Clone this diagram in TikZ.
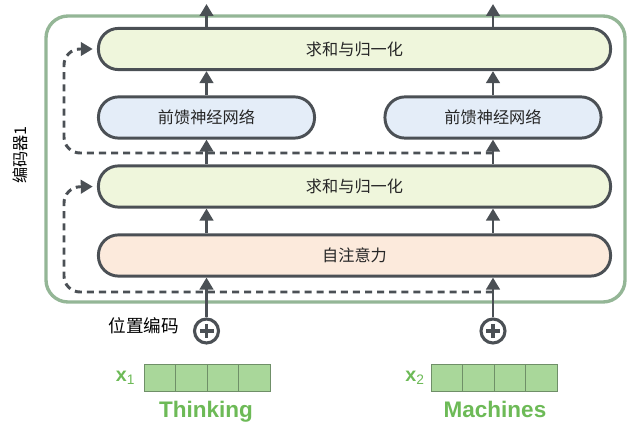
\documentclass[tikz,border=0pt]{standalone}
\usepackage{fontspec}
\usepackage{tikz}
\usetikzlibrary{arrows.meta}
\newfontfamily\cjk{Noto Sans CJK SC}
\newfontfamily\latinsans{Liberation Sans}
\definecolor{encgreen}{HTML}{94B696}
\definecolor{darkline}{HTML}{4B5055}
\definecolor{normfill}{HTML}{EFF6DC}
\definecolor{ffnfill}{HTML}{E4EDF8}
\definecolor{attnfill}{HTML}{FCEADC}
\definecolor{cellfill}{HTML}{A9D79A}
\definecolor{cellline}{HTML}{6F8F68}
\definecolor{wordgreen}{HTML}{6DBA57}

\begin{document}
\begin{tikzpicture}[
            x = 0.025cm, y = -0.025cm, % pixel grid, y runs downwards
            > = {Triangle[length=8.5pt,width=9.5pt]}, % arrow head style
            line width = 2.1pt, % line style
            block/.style = {draw=darkline, rounded corners=0.5cm, minimum height=1.03cm,
                            font=\cjk\fontsize{11.5}{14}\selectfont, text=black!85},
            addnorm/.style = {block, fill=normfill, minimum width=12.8cm},
            ffn/.style = {block, fill=ffnfill, minimum width=5.4cm},
            attn/.style = {block, fill=attnfill, minimum width=12.8cm},
            flow/.style = {->, darkline},
            skip/.style = {->, darkline, dash pattern=on 5pt off 3.6pt,
                           rounded corners=0.4cm, shorten > = 3pt},
            plus/.style = {shape=circle, draw=darkline, fill=white, minimum size=0.6cm, line width=2.2pt},
            cell/.style = {draw=cellline, fill=cellfill, line width=0.6pt,
                           minimum width=0.7875cm, minimum height=0.675cm},
            word/.style = {text=wordgreen, font=\latinsans\bfseries\fontsize{16}{18}\selectfont}
        ]
\useasboundingbox (0,0) rectangle (640,432);

% encoder frame
\draw[encgreen, line width=2.4pt, rounded corners=0.55cm] (46,16) rectangle (625,302);
\node[rotate=90, font=\cjk\fontsize{11.5}{14}\selectfont] (enc) at (20,155) {编码器1};

\node[addnorm] (sum2) at (354.5,49) {求和与归一化};
\node[ffn] (ffnL) at (206.5,117.5) {前馈神经网络};
\node[ffn] (ffnR) at (493,117.5) {前馈神经网络};
\node[addnorm] (sum1) at (354.5,186.5) {求和与归一化};
\node[attn] (attn) at (354.5,255.5) {自注意力};

\coordinate (outL) at (ffnL |- 0,4);
\coordinate (outR) at (ffnR |- 0,4);

% residual connections
\draw[skip] (ffnR |- 0,153) -| (64,49) -- (sum2.west);
\draw[skip] (ffnR |- 0,292) -| (64,187) -- (sum1.west);

\path[flow] (sum2.north -| ffnL) edge (outL)
            (sum2.north -| ffnR) edge (outR)
            (ffnL.north) edge (sum2.south -| ffnL)
            (ffnR.north) edge (sum2.south -| ffnR)
            (sum1.north -| ffnL) edge (ffnL.south)
            (sum1.north -| ffnR) edge (ffnR.south)
            (attn.north -| ffnL) edge (sum1.south -| ffnL)
            (attn.north -| ffnR) edge (sum1.south -| ffnR);

% positional encoding
\node[plus] (plusL) at (206.5,331) {};
\node[plus] (plusR) at (493,331) {};
\draw[darkline, line width=2.2pt] (plusL.center) ++(-7,0) -- ++(14,0)
                                  (plusL.center) ++(0,-7) -- ++(0,14);
\draw[darkline, line width=2.2pt] (plusR.center) ++(-7,0) -- ++(14,0)
                                  (plusR.center) ++(0,-7) -- ++(0,14);
\path[flow] (plusL.north) edge (attn.south -| plusL)
            (plusR.north) edge (attn.south -| plusR);
\node[font=\cjk\fontsize{12.5}{14}\selectfont] (pos) at (144,326) {位置编码};

% input embeddings
\foreach \i in {0,...,3} {
    \node[cell] (a\i) at (159.75+31.5*\i,377.5) {};
    \node[cell] (b\i) at (446.75+31.5*\i,377.5) {};
}
\node[text=wordgreen, font=\latinsans\bfseries\fontsize{14}{16}\selectfont] (xa) at (125.5,378) {x\textsubscript{\mdseries 1}};
\node[text=wordgreen, font=\latinsans\bfseries\fontsize{14}{16}\selectfont] (xb) at (415,378) {x\textsubscript{\mdseries 2}};
\node[word, anchor=base] (w1) at (206,418) {Thinking};
\node[word, anchor=base] (w2) at (495,418) {Machines};

\end{tikzpicture}
\end{document}
